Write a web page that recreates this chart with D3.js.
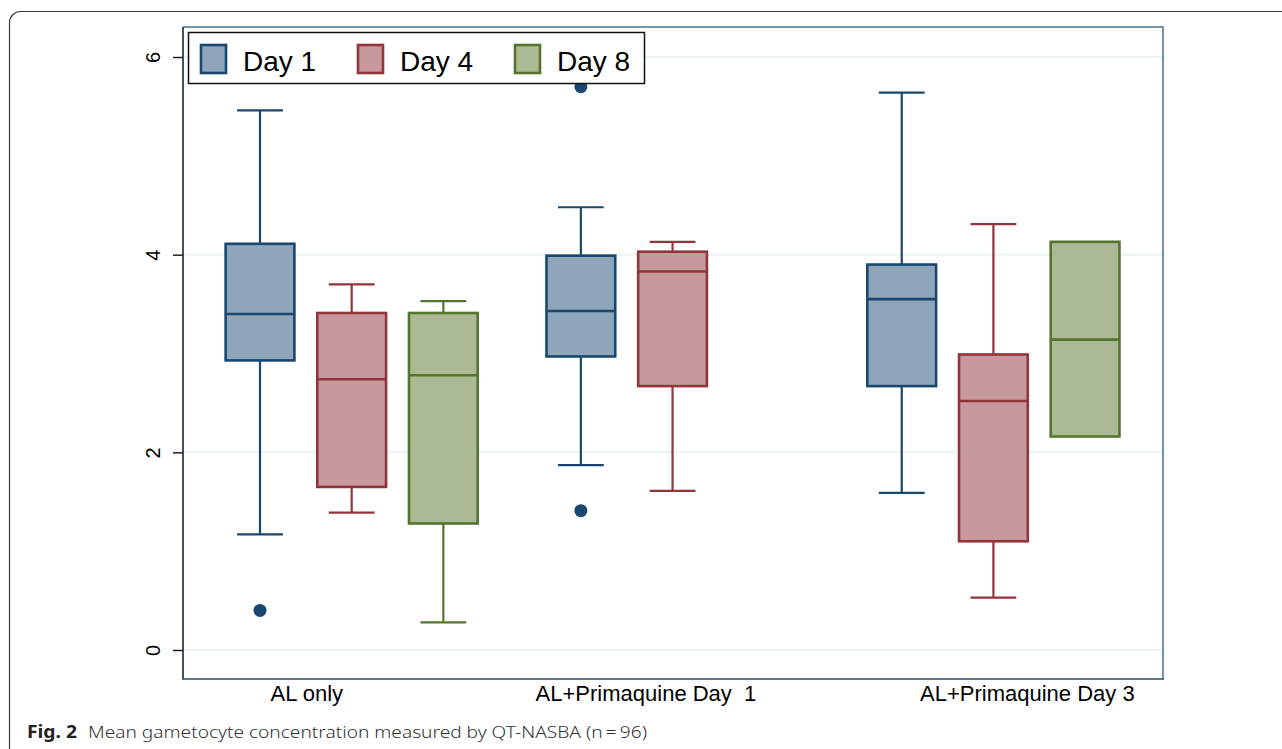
<!DOCTYPE html>
<html>
<head>
<meta charset="utf-8">
<script src="https://cdn.jsdelivr.net/npm/d3@7"></script>
<style>
  body { margin: 0; background: #fff; }
  svg { display: block; }
  .lab { font-family: "Liberation Sans", Arial, sans-serif; fill: #000; }
</style>
</head>
<body>
<svg id="chart" width="1282" height="749"></svg>
<script>

// --> DATA
var groups = ["AL only", "AL+Primaquine Day  1", "AL+Primaquine Day 3"];
var days = ["Day 1", "Day 4", "Day 8"];

// per group: [lower whisker, q1, median, q3, upper whisker]
var day1Stats = [[1.17, 2.93, 3.40, 4.11, 5.46],
                 [1.87, 2.97, 3.43, 3.99, 4.48],
                 [1.59, 2.67, 3.55, 3.90, 5.64]];
var day4Stats = [[1.39, 1.65, 2.74, 3.41, 3.70],
                 [1.61, 2.67, 3.83, 4.03, 4.13],
                 [0.53, 1.10, 2.52, 2.99, 4.31]];
var day8Stats = [[0.28, 1.28, 2.78, 3.41, 3.53],
                 null,
                 [2.16, 2.16, 3.14, 4.13, 4.13]];

// outside values: [group index, day index, value]
var outliers = [[0, 0, 0.40], [1, 0, 5.70], [1, 0, 1.41]];

var yTicks = [0, 2, 4, 6];

var fillColors = ["#8ea5ba", "#c8999c", "#abb995"];
var lineColors = ["#1a476f", "#90353b", "#55752f"];

// --> LAYOUT
var svg = d3.select("#chart");
var plot = {left: 183, right: 1163, top: 27, bottom: 679};

// boxes sit on slots: slot = group*3.5 + day
var x = d3.scaleLinear().domain([-0.84, 9.85]).range([plot.left, plot.right]);
var y = d3.scaleLinear().domain([0, 6]).range([650, 57]);
var boxW = x(0.75) - x(0);
var capW = x(0.5) - x(0);

// outer card
svg.append("rect")
    .attr("x", 9.5).attr("y", 11.5)
    .attr("width", 1320).attr("height", 800)
    .attr("rx", 11)
    .style("fill", "#fff")
    .style("stroke", "#3a3a3a")
    .style("stroke-width", 1.2);

// gridlines
svg.append("g")
    .selectAll("line")
    .data(yTicks)
    .enter().append("line")
    .attr("x1", plot.left).attr("x2", plot.right)
    .attr("y1", function(d){ return y(d); })
    .attr("y2", function(d){ return y(d); })
    .style("stroke", "#eaf2f3")
    .style("stroke-width", 2);

// build the box records
var boxes = [];
[day1Stats, day4Stats, day8Stats].forEach(function(stats, di){
    stats.forEach(function(s, gi){
        if (!s) return;
        boxes.push({g: gi, d: di, lo: s[0], q1: s[1], med: s[2], q3: s[3], hi: s[4],
                    cx: x(gi * 3.5 + di)});
    });
});

var bg = svg.append("g").selectAll("g")
    .data(boxes)
    .enter().append("g");

// whiskers
bg.append("line")
    .attr("x1", function(d){ return d.cx; }).attr("x2", function(d){ return d.cx; })
    .attr("y1", function(d){ return y(d.q3); }).attr("y2", function(d){ return y(d.hi); })
    .style("stroke", function(d){ return lineColors[d.d]; })
    .style("stroke-width", 2.2);
bg.append("line")
    .attr("x1", function(d){ return d.cx; }).attr("x2", function(d){ return d.cx; })
    .attr("y1", function(d){ return y(d.q1); }).attr("y2", function(d){ return y(d.lo); })
    .style("stroke", function(d){ return lineColors[d.d]; })
    .style("stroke-width", 2.2);

// caps (only when whisker is longer than the box edge)
bg.filter(function(d){ return d.hi > d.q3; }).append("line")
    .attr("x1", function(d){ return d.cx - capW / 2; })
    .attr("x2", function(d){ return d.cx + capW / 2; })
    .attr("y1", function(d){ return y(d.hi); }).attr("y2", function(d){ return y(d.hi); })
    .style("stroke", function(d){ return lineColors[d.d]; })
    .style("stroke-width", 2.2);
bg.filter(function(d){ return d.lo < d.q1; }).append("line")
    .attr("x1", function(d){ return d.cx - capW / 2; })
    .attr("x2", function(d){ return d.cx + capW / 2; })
    .attr("y1", function(d){ return y(d.lo); }).attr("y2", function(d){ return y(d.lo); })
    .style("stroke", function(d){ return lineColors[d.d]; })
    .style("stroke-width", 2.2);

// box
bg.append("rect")
    .attr("x", function(d){ return d.cx - boxW / 2; })
    .attr("width", boxW)
    .attr("y", function(d){ return y(d.q3); })
    .attr("height", function(d){ return y(d.q1) - y(d.q3); })
    .style("fill", function(d){ return fillColors[d.d]; })
    .style("stroke", function(d){ return lineColors[d.d]; })
    .style("stroke-width", 2.6);

// median
bg.append("line")
    .attr("x1", function(d){ return d.cx - boxW / 2; })
    .attr("x2", function(d){ return d.cx + boxW / 2; })
    .attr("y1", function(d){ return y(d.med); }).attr("y2", function(d){ return y(d.med); })
    .style("stroke", function(d){ return lineColors[d.d]; })
    .style("stroke-width", 2.6);

// outside values
svg.append("g").selectAll("circle")
    .data(outliers)
    .enter().append("circle")
    .attr("cx", function(d){ return x(d[0] * 3.5 + d[1]); })
    .attr("cy", function(d){ return y(d[2]); })
    .attr("r", 6.5)
    .style("fill", function(d){ return lineColors[d[1]]; });

// frame: top and right
svg.append("path")
    .attr("d", "M" + plot.left + "," + plot.top + "H" + plot.right + "V" + plot.bottom)
    .style("fill", "none")
    .style("stroke", "#4d6d8f")
    .style("stroke-width", 1.5);

// y axis
var yAxis = svg.append("g")
    .attr("class", "lab")
    .attr("transform", "translate(" + plot.left + ",0)")
    .call(d3.axisLeft(y).tickValues(yTicks).tickFormat(d3.format("d")).tickSize(10).tickPadding(0));
yAxis.select(".domain").remove();
yAxis.append("line")
    .attr("y1", plot.top).attr("y2", plot.bottom)
    .style("stroke", "#16232f").style("stroke-width", 1.6);
yAxis.selectAll(".tick line").style("stroke", "#111").style("stroke-width", 1.4);
yAxis.selectAll(".tick text")
    .attr("x", 0).attr("dy", 0)
    .attr("transform", "translate(-30,0) rotate(-90)")
    .attr("text-anchor", "middle")
    .attr("dominant-baseline", "central")
    .style("font-size", "20px")
    .style("fill", "#000");

// x axis line and group labels
svg.append("line")
    .attr("x1", plot.left - 1).attr("x2", plot.right + 1)
    .attr("y1", plot.bottom).attr("y2", plot.bottom)
    .style("stroke", "#2b4966").style("stroke-width", 1.6);

var labelSlot = [0.51, 4.21, 8.37];
svg.append("g").selectAll("text")
    .data(groups)
    .enter().append("text")
    .attr("class", "lab")
    .attr("x", function(d, i){ return x(labelSlot[i]); })
    .attr("y", 701)
    .attr("text-anchor", "middle")
    .style("white-space", "pre")
    .attr("xml:space", "preserve")
    .style("font-size", "22px")
    .text(function(d){ return d; });

// legend
var legend = svg.append("g");
legend.append("rect")
    .attr("x", 188.5).attr("y", 32.5)
    .attr("width", 456).attr("height", 51)
    .style("fill", "#fff")
    .style("stroke", "#111")
    .style("stroke-width", 1.5);
var li = legend.selectAll("g.item")
    .data(days)
    .enter().append("g")
    .attr("class", "item")
    .attr("transform", function(d, i){ return "translate(" + (201 + i * 157) + ",0)"; });
li.append("rect")
    .attr("x", 0).attr("y", 45)
    .attr("width", 25).attr("height", 28)
    .style("fill", function(d, i){ return fillColors[i]; })
    .style("stroke", function(d, i){ return lineColors[i]; })
    .style("stroke-width", 2.6);
li.append("text")
    .attr("class", "lab")
    .attr("x", 42).attr("y", 71)
    .style("font-size", "28px")
    .text(function(d){ return d; });

// caption
svg.append("text")
    .attr("x", 27).attr("y", 738)
    .style("font-family", "'Noto Sans', 'Open Sans', sans-serif")
    .style("font-weight", "bold")
    .style("font-size", "17px")
    .style("fill", "#222")
    .attr("textLength", 50).attr("lengthAdjust", "spacingAndGlyphs")
    .text("Fig. 2");
svg.append("text")
    .attr("x", 88).attr("y", 738)
    .style("font-family", "'Noto Sans', 'Open Sans', sans-serif")
    .style("font-weight", 300)
    .style("font-size", "17px")
    .style("fill", "#333")
    .attr("textLength", 559).attr("lengthAdjust", "spacingAndGlyphs")
    .text("Mean gametocyte concentration measured by QT-NASBA (n\u2009=\u200996)");

</script>
</body>
</html>
